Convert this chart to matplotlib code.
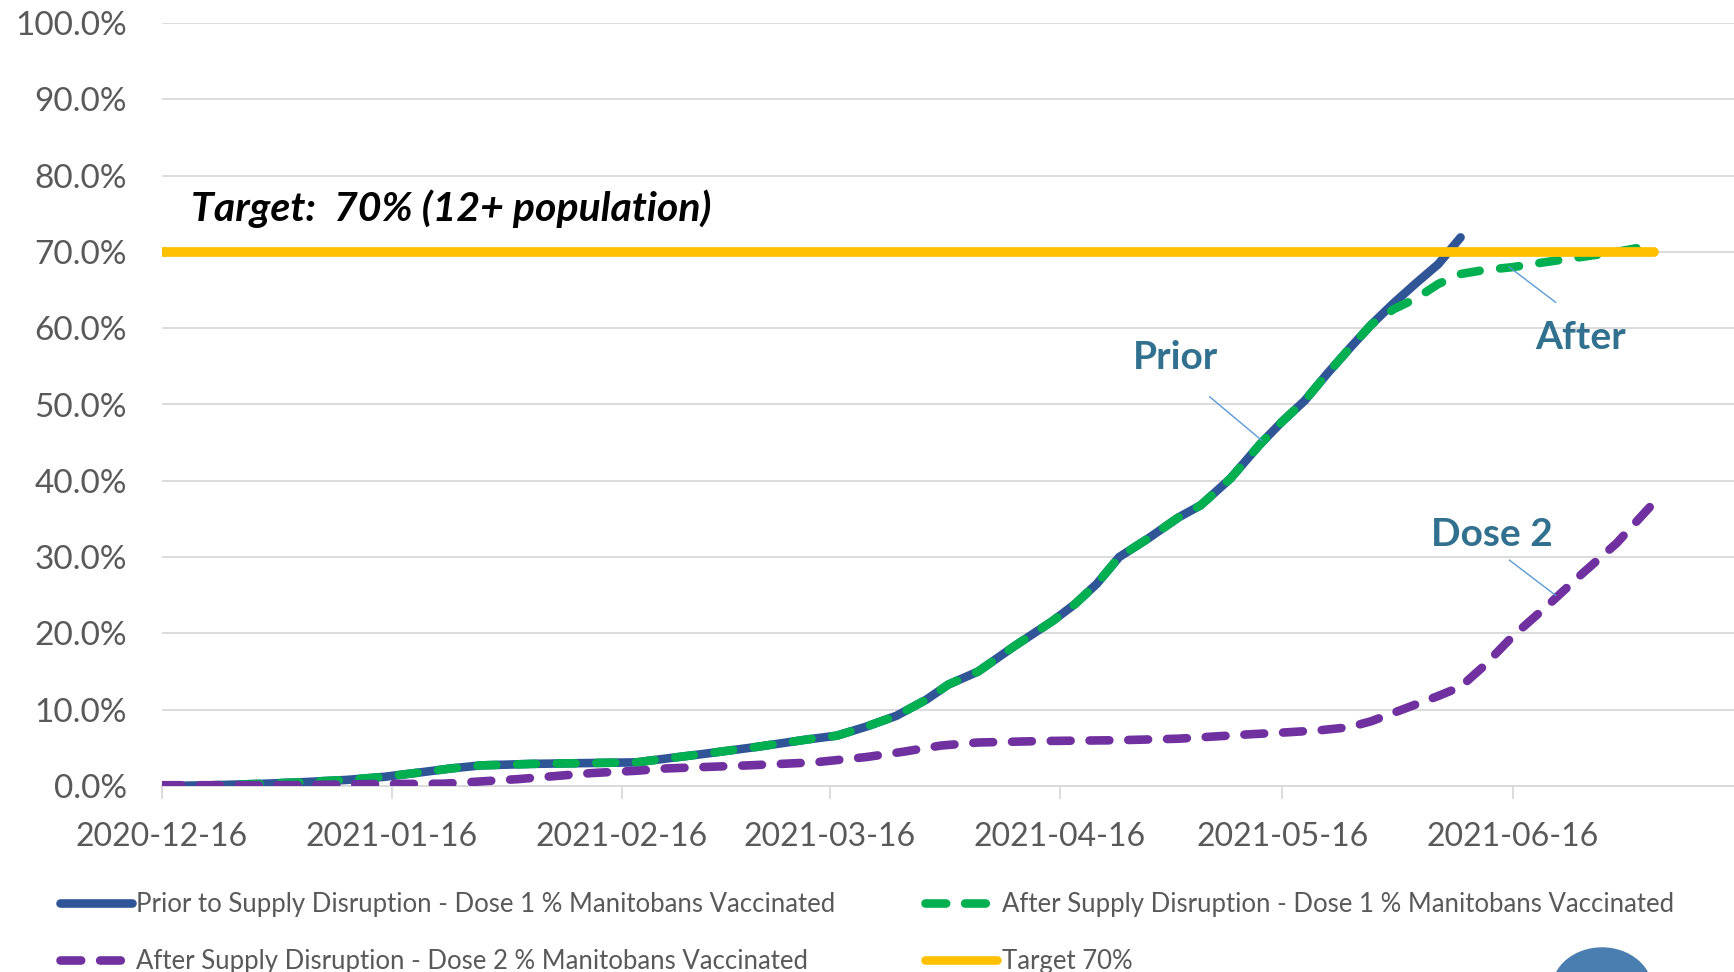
import matplotlib
matplotlib.use("Agg")
import matplotlib.pyplot as plt
import matplotlib.dates as mdates
from matplotlib.lines import Line2D
from matplotlib.patches import Ellipse
import pandas as pd

# --------------------------------------------------------------------------
# Data (% of Manitobans vaccinated)
# --------------------------------------------------------------------------
dose1_dates = ["2020-12-16", "2020-12-23", "2020-12-30", "2021-01-04", "2021-01-10",
               "2021-01-15", "2021-01-20", "2021-01-24", "2021-01-28", "2021-02-04",
               "2021-02-11", "2021-02-18", "2021-02-22", "2021-02-27", "2021-03-06",
               "2021-03-13", "2021-03-17", "2021-03-21", "2021-03-25", "2021-03-29",
               "2021-04-01", "2021-04-05", "2021-04-10", "2021-04-15", "2021-04-18",
               "2021-04-21", "2021-04-24", "2021-04-28", "2021-05-02", "2021-05-05",
               "2021-05-09", "2021-05-13", "2021-05-16", "2021-05-19", "2021-05-22",
               "2021-05-25", "2021-05-28"]
dose1_common = [0.0, 0.1, 0.3, 0.5, 0.8,
                1.2, 1.8, 2.3, 2.7, 2.9,
                3.0, 3.1, 3.6, 4.2, 5.1,
                6.1, 6.6, 7.8, 9.2, 11.3,
                13.3, 15.0, 18.4, 21.6, 23.8,
                26.5, 30.0, 32.5, 35.2, 36.8,
                40.3, 44.8, 47.8, 50.5, 54.0,
                57.3, 60.5]

prior_tail_dates = ["2021-05-31", "2021-06-03", "2021-06-06", "2021-06-09"]
prior_tail = [63.3, 65.9, 68.4, 71.9]

after_tail_dates = ["2021-05-31", "2021-06-03", "2021-06-06", "2021-06-09", "2021-06-12",
                    "2021-06-16", "2021-06-20", "2021-06-25", "2021-06-30", "2021-07-05"]
after_tail = [62.5, 63.9, 65.8, 67.1, 67.6,
              68.0, 68.6, 69.3, 70.0, 70.9]

dose2_dates = ["2020-12-16", "2020-12-30", "2021-01-06", "2021-01-13", "2021-01-23",
               "2021-01-28", "2021-02-02", "2021-02-07", "2021-02-12", "2021-02-18",
               "2021-02-22", "2021-03-05", "2021-03-14", "2021-03-21", "2021-03-26",
               "2021-03-31", "2021-04-05", "2021-04-14", "2021-04-24", "2021-05-02",
               "2021-05-12", "2021-05-16", "2021-05-21", "2021-05-25", "2021-05-28",
               "2021-05-31", "2021-06-06", "2021-06-09", "2021-06-12", "2021-06-16",
               "2021-06-21", "2021-06-25", "2021-06-30", "2021-07-05"]
dose2 = [0.1, 0.1, 0.15, 0.25, 0.3,
         0.6, 0.9, 1.3, 1.7, 2.0,
         2.3, 2.7, 3.1, 3.8, 4.5,
         5.3, 5.7, 5.9, 6.0, 6.2,
         6.8, 7.0, 7.3, 7.7, 8.5,
         9.6, 11.8, 13.0, 15.6, 19.6,
         23.9, 27.5, 31.8, 37.1]

target_dates = ["2020-12-16", "2021-07-05"]
target = [70.0, 70.0]

y_ticks = [0, 10, 20, 30, 40, 50, 60, 70, 80, 90, 100]

labels = ["Prior to Supply Disruption - Dose 1 % Manitobans Vaccinated",
          "After Supply Disruption - Dose 1 % Manitobans Vaccinated",
          "After Supply Disruption - Dose 2 % Manitobans Vaccinated",
          "Target 70%"]

# --------------------------------------------------------------------------
# Style
# --------------------------------------------------------------------------
BLUE = "#2F5597"
GREEN = "#00B050"
PURPLE = "#7030A0"
YELLOW = "#FFC000"
GRID = "#D9D9D9"
TEXT = "#595959"
ANNOT = "#31708F"
LEADER = "#5B9BD5"

plt.rcParams["font.family"] = ["Lato", "DejaVu Sans"]

fig = plt.figure(figsize=(17.34, 9.72), dpi=100)
ax = fig.add_axes([161.5 / 1734, 186 / 972, 1 - 161.5 / 1734, 763 / 972])

prior_x = pd.to_datetime(dose1_dates + prior_tail_dates)
prior_y = [v / 100 for v in dose1_common + prior_tail]
after_x = pd.to_datetime(dose1_dates + after_tail_dates)
after_y = [v / 100 for v in dose1_common + after_tail]

lw = 6.2
ax.plot(prior_x, prior_y, color=BLUE, lw=lw, solid_capstyle="round",
        solid_joinstyle="round", zorder=3)
ax.plot(after_x, after_y, color=GREEN, lw=lw, dashes=(2.2, 2.4),
        dash_capstyle="round", dash_joinstyle="round", zorder=4)
ax.plot(pd.to_datetime(dose2_dates), [v / 100 for v in dose2], color=PURPLE, lw=lw,
        dashes=(2.3, 2.2), dash_capstyle="round", dash_joinstyle="round", zorder=4)
ax.plot(pd.to_datetime(target_dates), [v / 100 for v in target], color=YELLOW, lw=7,
        solid_capstyle="round", zorder=5)

# axes
ax.set_xlim(pd.Timestamp("2020-12-16"), pd.Timestamp("2021-07-15 20:00"))
ax.set_ylim(0, 1)
ax.set_yticks([t / 100 for t in y_ticks])
ax.yaxis.set_major_formatter(lambda v, p: f"{v * 100:.1f}%")
ax.xaxis.set_major_locator(mdates.MonthLocator(bymonthday=16))
ax.xaxis.set_major_formatter(mdates.DateFormatter("%Y-%m-%d"))

for s in ["top", "right", "left"]:
    ax.spines[s].set_visible(False)
ax.spines["bottom"].set_color(GRID)
ax.spines["bottom"].set_linewidth(1.3)
ax.grid(axis="y", color=GRID, lw=1.3, zorder=0)
ax.set_axisbelow(True)
ax.tick_params(axis="y", length=0, pad=25, labelsize=24, labelcolor=TEXT)
ax.tick_params(axis="x", length=9, width=1.3, color=GRID, pad=17,
               labelsize=23, labelcolor=TEXT)

# annotations
ax.text(pd.Timestamp("2020-12-20"), 0.756, "Target:  70% (12+ population)",
        fontsize=29.5, fontweight="bold", fontstyle="italic", color="black",
        ha="left", va="center")

ax.text(pd.Timestamp("2021-05-01 14:00"), 0.561, "Prior", fontsize=28,
        fontweight="bold", color=ANNOT, ha="center", va="center")
ax.plot(pd.to_datetime(["2021-05-06 05:00", "2021-05-13 05:00"]), [0.510, 0.453],
        color=LEADER, lw=1, zorder=6)

ax.text(pd.Timestamp("2021-06-25 05:00"), 0.588, "After", fontsize=28,
        fontweight="bold", color=ANNOT, ha="center", va="center")
ax.plot(pd.to_datetime(["2021-06-15 14:00", "2021-06-21 19:00"]), [0.680, 0.634],
        color=LEADER, lw=1, zorder=6)

ax.text(pd.Timestamp("2021-06-13 05:00"), 0.329, "Dose 2", fontsize=28,
        fontweight="bold", color=ANNOT, ha="center", va="center")
ax.plot(pd.to_datetime(["2021-06-15 14:00", "2021-06-21 19:00"]), [0.296, 0.250],
        color=LEADER, lw=1, zorder=6)

# legend
handles = [
    Line2D([], [], color=BLUE, lw=lw, solid_capstyle="round"),
    Line2D([], [], color=PURPLE, lw=lw, dashes=(2.4, 2.2), dash_capstyle="round"),
    Line2D([], [], color=GREEN, lw=lw, dashes=(2.4, 2.2), dash_capstyle="round"),
    Line2D([], [], color=YELLOW, lw=lw, solid_capstyle="round"),
]
leg_labels = [labels[0], labels[2], labels[1], labels[3]]
fig.legend(handles, leg_labels, loc="center left", bbox_to_anchor=(60 / 1734, 0.040),
           ncol=2, frameon=False, fontsize=18.5, labelcolor=TEXT, handlelength=2.8,
           handletextpad=0.17, columnspacing=3.5, labelspacing=1.25,
           borderpad=0, borderaxespad=0)

# partial logo shape in the lower right corner
fig.add_artist(Ellipse((1602 / 1734, -0.0185), 100 / 1734, 84 / 972,
                       transform=fig.transFigure, color="#4A7DB0", clip_on=False))

fig.savefig("out.png", dpi=100)
